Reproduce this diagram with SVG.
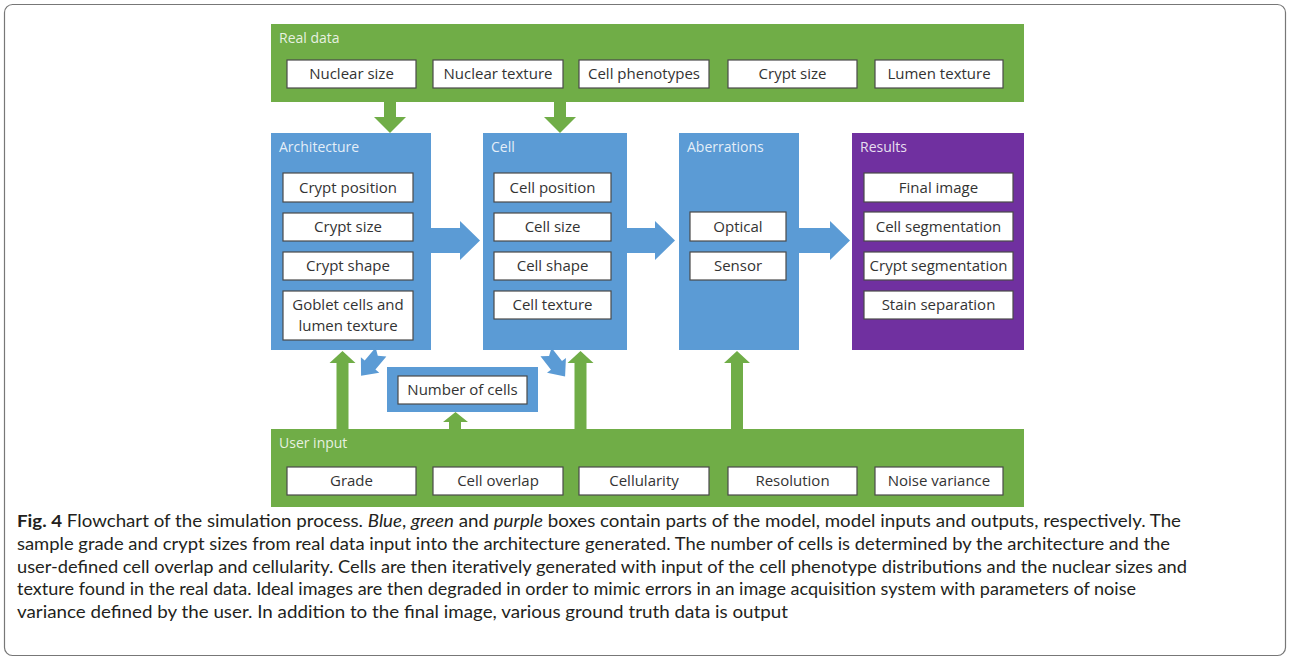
<svg xmlns="http://www.w3.org/2000/svg" width="1289" height="666" viewBox="0 0 1289 666">
<style>
.grn{fill:#70ad47}
.blu{fill:#5b9bd5}
.pur{fill:#7030a0}
.wb{fill:#ffffff;stroke:#4a4a4a;stroke-width:1.2}
.hd{font-family:"Open Sans","Noto Sans",sans-serif;font-size:14px;fill:#ffffff;fill-opacity:0.85}
.bt{font-family:"Open Sans","Noto Sans",sans-serif;font-size:15px;fill:#333333;text-anchor:middle}
.cap{font-family:Lato,"Liberation Sans",sans-serif;font-size:17.5px;fill:#231f20}
</style>
<rect x="4.5" y="4.5" width="1281" height="651" rx="8" fill="#ffffff" stroke="#777777" stroke-width="1.2"/>

<g id="real-data">
<rect class="grn" x="271" y="24" width="753" height="78"/>
<text class="hd" x="279" y="43">Real data</text>
<rect class="wb" x="287" y="60" width="129" height="28"/><text class="bt" x="351.5" y="79">Nuclear size</text>
<rect class="wb" x="433" y="60" width="130" height="28"/><text class="bt" x="498" y="79">Nuclear texture</text>
<rect class="wb" x="579" y="60" width="130" height="28"/><text class="bt" x="644" y="79">Cell phenotypes</text>
<rect class="wb" x="728" y="60" width="129" height="28"/><text class="bt" x="792.5" y="79">Crypt size</text>
<rect class="wb" x="875" y="60" width="128" height="28"/><text class="bt" x="939" y="79">Lumen texture</text>
</g>

<g id="architecture">
<rect class="blu" x="271" y="133" width="160" height="217"/>
<text class="hd" x="279" y="152">Architecture</text>
<rect class="wb" x="283" y="173" width="130" height="29"/><text class="bt" x="348" y="192.5">Crypt position</text>
<rect class="wb" x="283" y="213" width="130" height="28"/><text class="bt" x="348" y="232">Crypt size</text>
<rect class="wb" x="283" y="252" width="130" height="28"/><text class="bt" x="348" y="271">Crypt shape</text>
<rect class="wb" x="283" y="291" width="130" height="49"/><text class="bt" x="348" y="310">Goblet cells and</text><text class="bt" x="348" y="331">lumen texture</text>
</g>

<g id="cell">
<rect class="blu" x="483" y="133" width="144" height="217"/>
<text class="hd" x="491" y="152">Cell</text>
<rect class="wb" x="494" y="173" width="117" height="29"/><text class="bt" x="552.5" y="192.5">Cell position</text>
<rect class="wb" x="494" y="213" width="117" height="28"/><text class="bt" x="552.5" y="232">Cell size</text>
<rect class="wb" x="494" y="252" width="117" height="28"/><text class="bt" x="552.5" y="271">Cell shape</text>
<rect class="wb" x="494" y="291" width="117" height="28"/><text class="bt" x="552.5" y="310">Cell texture</text>
</g>

<g id="aberrations">
<rect class="blu" x="679" y="133" width="120" height="217"/>
<text class="hd" x="687" y="152">Aberrations</text>
<rect class="wb" x="690" y="212" width="96" height="29"/><text class="bt" x="738" y="231.5">Optical</text>
<rect class="wb" x="690" y="252" width="96" height="28"/><text class="bt" x="738" y="271">Sensor</text>
</g>

<g id="results">
<rect class="pur" x="852" y="133" width="172" height="217"/>
<text class="hd" x="860" y="152">Results</text>
<rect class="wb" x="864" y="173" width="149" height="29"/><text class="bt" x="938.5" y="192.5">Final image</text>
<rect class="wb" x="864" y="212" width="149" height="29"/><text class="bt" x="938.5" y="231.5">Cell segmentation</text>
<rect class="wb" x="864" y="252" width="149" height="28"/><text class="bt" x="938.5" y="271">Crypt segmentation</text>
<rect class="wb" x="864" y="291" width="149" height="28"/><text class="bt" x="938.5" y="310">Stain separation</text>
</g>

<g id="number-of-cells">
<rect class="blu" x="387" y="367" width="151" height="45"/>
<rect class="wb" x="398" y="376" width="129" height="28"/><text class="bt" x="462.5" y="395">Number of cells</text>
</g>

<g id="user-input">
<rect class="grn" x="271" y="429" width="753" height="78"/>
<text class="hd" x="279" y="448">User input</text>
<rect class="wb" x="287" y="467" width="129" height="28"/><text class="bt" x="351.5" y="486">Grade</text>
<rect class="wb" x="433" y="467" width="130" height="28"/><text class="bt" x="498" y="486">Cell overlap</text>
<rect class="wb" x="579" y="467" width="130" height="28"/><text class="bt" x="644" y="486">Cellularity</text>
<rect class="wb" x="728" y="467" width="129" height="28"/><text class="bt" x="792.5" y="486">Resolution</text>
<rect class="wb" x="875" y="467" width="128" height="28"/><text class="bt" x="939" y="486">Noise variance</text>
</g>

<g id="connectors">
<polygon class="grn" points="384,102 396,102 396,117 406,117 390,133 374,117 384,117"/>
<polygon class="grn" points="554,102 566,102 566,117 576,117 560,133 544,117 554,117"/>
<polygon class="blu" points="431,228 460,228 460,221 480,240.5 460,260 460,253 431,253"/>
<polygon class="blu" points="627,228 655,228 655,221 675,240.5 655,260 655,253 627,253"/>
<polygon class="blu" points="799,228 830,228 830,221 850,240.5 830,260 830,253 799,253"/>
<polygon class="grn" points="336.5,429 348.5,429 348.5,363 355.5,363 342.5,351 329.5,363 336.5,363"/>
<polygon class="grn" points="574.5,429 586.5,429 586.5,363 593.5,363 580.5,351 567.5,363 574.5,363"/>
<polygon class="grn" points="731,429 743,429 743,363 750,363 737,351 724,363 731,363"/>
<polygon class="grn" points="449,429 461,429 461,422 468,422 455.5,412 443,422 449,422"/>
<polygon class="blu" transform="translate(381,352) rotate(130)" points="0,-7 5,0 0,7 17,7 17,12 31,0 17,-12 17,-7"/>
<polygon class="blu" transform="translate(546,352) rotate(52)" points="0,-7 5,0 0,7 17,7 17,12 31,0 17,-12 17,-7"/>
</g>

<g id="caption">
<text class="cap" x="17" y="527" textLength="1164" lengthAdjust="spacingAndGlyphs"><tspan font-weight="bold">Fig. 4</tspan> Flowchart of the simulation process. <tspan font-style="italic">Blue</tspan>, <tspan font-style="italic">green</tspan> and <tspan font-style="italic">purple</tspan> boxes contain parts of the model, model inputs and outputs, respectively. The</text>
<text class="cap" x="17" y="550" textLength="1153" lengthAdjust="spacingAndGlyphs">sample grade and crypt sizes from real data input into the architecture generated. The number of cells is determined by the architecture and the</text>
<text class="cap" x="17" y="573" textLength="1170" lengthAdjust="spacingAndGlyphs">user-defined cell overlap and cellularity. Cells are then iteratively generated with input of the cell phenotype distributions and the nuclear sizes and</text>
<text class="cap" x="17" y="595" textLength="1119" lengthAdjust="spacingAndGlyphs">texture found in the real data. Ideal images are then degraded in order to mimic errors in an image acquisition system with parameters of noise</text>
<text class="cap" x="17" y="618" textLength="771" lengthAdjust="spacingAndGlyphs">variance defined by the user. In addition to the final image, various ground truth data is output</text>
</g>
</svg>
